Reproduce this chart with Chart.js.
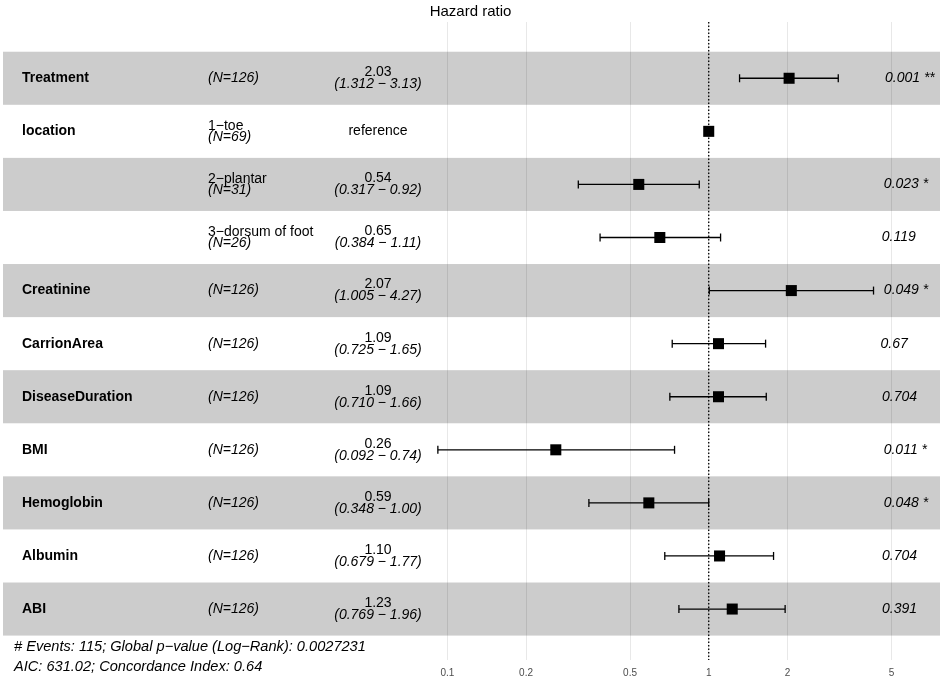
<!DOCTYPE html>
<html lang="en">
<head>
  <meta charset="UTF-8">
  <title>Hazard ratio</title>
  <script src="https://cdn.jsdelivr.net/npm/chart.js"></script>
  <style>
    body { margin: 0; background: #fff; }
    #wrap { width: 941px; height: 683px; }
  </style>
</head>
<body>
  <div id="wrap"><canvas id="chartForest"></canvas></div>

<script>
  // dados
  const variaveis = ['Treatment', 'location', '', '', 'Creatinine', 'CarrionArea', 'DiseaseDuration', 'BMI', 'Hemoglobin', 'Albumin', 'ABI'];
  const niveis = ['', '1−toe', '2−plantar', '3−dorsum of foot', '', '', '', '', '', '', ''];
  const nObs = [126, 69, 31, 26, 126, 126, 126, 126, 126, 126, 126];
  const hr = [2.03, 1, 0.54, 0.65, 2.07, 1.09, 1.09, 0.26, 0.59, 1.10, 1.23];
  const ciBaixo = [1.312, null, 0.317, 0.384, 1.005, 0.725, 0.710, 0.092, 0.348, 0.679, 0.769];
  const ciAlto = [3.13, null, 0.92, 1.11, 4.27, 1.65, 1.66, 0.74, 1.00, 1.77, 1.96];
  const hrTexto = ['2.03', 'reference', '0.54', '0.65', '2.07', '1.09', '1.09', '0.26', '0.59', '1.10', '1.23'];
  const ciTexto = ['(1.312 − 3.13)', '', '(0.317 − 0.92)', '(0.384 − 1.11)', '(1.005 − 4.27)', '(0.725 − 1.65)',
    '(0.710 − 1.66)', '(0.092 − 0.74)', '(0.348 − 1.00)', '(0.679 − 1.77)', '(0.769 − 1.96)'];
  const pTexto = ['0.001 **', '', '0.023 *', '0.119', '0.049 *', '0.67', '0.704', '0.011 *', '0.048 *', '0.704', '0.391'];
  const ticksX = [0.1, 0.2, 0.5, 1, 2, 5];
  const rodape = ['# Events: 115; Global p−value (Log−Rank): 0.0027231', 'AIC: 631.02; Concordance Index: 0.64'];

  const fonte = "'Liberation Sans', Arial, Helvetica, sans-serif";
  Chart.defaults.font.family = fonte;

  const yMin = -1.06, yMax = 10.96;

  // faixas cinzas atrás de tudo
  const faixas = {
    id: 'faixas',
    beforeDraw(chart) {
      const ctx = chart.ctx, a = chart.chartArea, y = chart.scales.y;
      ctx.save();
      ctx.fillStyle = '#cccccc';
      for (let i = 0; i < variaveis.length; i += 2) {
        const t = y.getPixelForValue(i - 0.5);
        const b = y.getPixelForValue(i + 0.5);
        ctx.fillRect(a.left + 3, t, a.right - a.left - 4, b - t);
      }
      ctx.restore();
    }
  };

  // colunas de texto
  const textos = {
    id: 'textos',
    afterDatasetsDraw(chart) {
      const ctx = chart.ctx, y = chart.scales.y;
      ctx.save();
      ctx.fillStyle = '#000';
      ctx.textBaseline = 'middle';
      for (let i = 0; i < variaveis.length; i++) {
        const py = y.getPixelForValue(i);

        ctx.textAlign = 'left';
        ctx.font = 'bold 14px ' + fonte;
        if (variaveis[i]) ctx.fillText(variaveis[i], 22, py);

        ctx.font = 'italic 14px ' + fonte;
        if (niveis[i]) {
          ctx.font = '14px ' + fonte;
          ctx.fillText(niveis[i], 208, py - 5.5);
          ctx.font = 'italic 14px ' + fonte;
          ctx.fillText('(N=' + nObs[i] + ')', 208, py + 6);
        } else {
          ctx.fillText('(N=' + nObs[i] + ')', 208, py);
        }

        ctx.textAlign = 'center';
        if (ciBaixo[i] === null) {
          ctx.font = '14px ' + fonte;
          ctx.fillText(hrTexto[i], 378, py);
        } else {
          ctx.font = '14px ' + fonte;
          ctx.fillText(hrTexto[i], 378, py - 6);
          ctx.font = 'italic 14px ' + fonte;
          ctx.fillText(ciTexto[i], 378, py + 6);
        }

        if (pTexto[i]) {
          ctx.textAlign = 'left';
          ctx.font = 'italic 14px ' + fonte;
          const w = ctx.measureText(pTexto[i]).width;
          ctx.fillText(pTexto[i], 875 + 0.2 * w, py);
        }
      }

      ctx.textAlign = 'left';
      ctx.font = 'italic 14.6px ' + fonte;
      const base = y.getPixelForValue(variaveis.length - 0.5);
      ctx.fillText(rodape[0], 14, base + 11);
      ctx.fillText(rodape[1], 14, base + 31);
      ctx.restore();
    }
  };

  const pontos = {
    label: 'HR',
    data: hr.map((v, i) => ({ x: v, y: i })),
    pointStyle: 'rect',
    pointRadius: 7.8,
    backgroundColor: '#000',
    borderColor: '#000',
    borderWidth: 0,
    order: 0
  };

  const intervalos = [];
  for (let i = 0; i < hr.length; i++) {
    if (ciBaixo[i] === null) continue;
    intervalos.push({
      label: 'IC ' + i,
      data: [{ x: ciBaixo[i], y: i }, { x: ciAlto[i], y: i }],
      showLine: true,
      borderColor: '#000',
      borderWidth: 1.3,
      pointStyle: 'line',
      pointRotation: 90,
      pointRadius: 4,
      pointBorderWidth: 1.3,
      pointBorderColor: '#000',
      order: 1
    });
  }

  const linhaRef = {
    label: 'ref',
    data: [{ x: 1, y: yMin }, { x: 1, y: yMax }],
    showLine: true,
    borderColor: '#000',
    borderWidth: 1.3,
    borderDash: [1.5, 2],
    pointRadius: 0,
    order: 2
  };

  new Chart(document.getElementById('chartForest'), {
    type: 'scatter',
    data: { datasets: [pontos, ...intervalos, linhaRef] },
    options: {
      responsive: true,
      maintainAspectRatio: false,
      animation: false,
      layout: { autoPadding: false, padding: 0 },
      plugins: {
        legend: { display: false },
        tooltip: { enabled: false },
        title: {
          display: true,
          text: 'Hazard ratio',
          color: '#000',
          font: { size: 15, weight: 'normal' },
          padding: { top: 3, bottom: 1 }
        }
      },
      scales: {
        x: {
          type: 'logarithmic',
          min: 0.001944,
          max: 7.737,
          afterBuildTicks(axis) { axis.ticks = ticksX.map(v => ({ value: v })); },
          afterFit(axis) { axis.height = 23; },
          ticks: {
            autoSkip: false,
            maxRotation: 0,
            padding: 7,
            color: '#4d4d4d',
            font: { size: 10 },
            callback: v => String(v)
          },
          grid: { color: 'rgba(0,0,0,0.09)', lineWidth: 1, drawTicks: false },
          border: { display: false }
        },
        y: {
          type: 'linear',
          reverse: true,
          min: yMin,
          max: yMax,
          display: false
        }
      }
    },
    plugins: [faixas, textos]
  });
</script>
</body>
</html>
